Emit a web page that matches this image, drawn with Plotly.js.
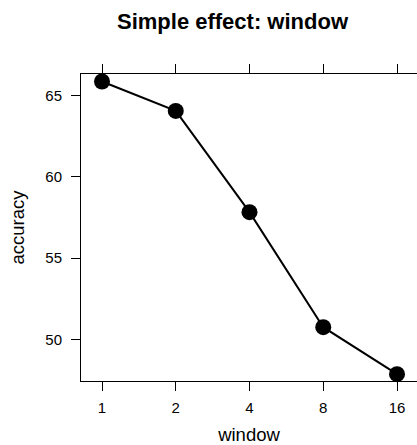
<!DOCTYPE html>
<html>
<head>
<meta charset="utf-8">
<script src="https://cdn.plot.ly/plotly-3.0.1.min.js"></script>
<style>html,body{margin:0;padding:0;background:#fff;overflow:hidden;}</style>
</head>
<body>
<div id="chart" style="width:417px;height:445px;"></div>
<script>
const windowSizes = [1, 2, 4, 8, 16];
const accuracy = [65.87, 64.06, 57.83, 50.75, 47.86];
const xTickLabels = ["1", "2", "4", "8", "16"];
const yTickValues = [50, 55, 60, 65];

const font = "Liberation Sans, Arial, Helvetica, sans-serif";

const trace = {
  x: windowSizes,
  y: accuracy,
  type: "scatter",
  mode: "lines+markers",
  line: {color: "#000", width: 2},
  marker: {color: "#000", size: 16},
  cliponaxis: false,
  hoverinfo: "skip"
};

const layout = {
  width: 417,
  height: 445,
  margin: {l: 81, r: 0, t: 74, b: 64},
  paper_bgcolor: "#fff",
  plot_bgcolor: "#fff",
  showlegend: false,
  font: {family: font, color: "#000"},
  title: {
    text: "<b>Simple effect: window</b>",
    font: {family: font, size: 22, color: "#000"},
    x: 232.5 / 417, xanchor: "center", xref: "container",
    y: 1 - 21 / 445, yanchor: "middle", yref: "container"
  },
  xaxis: {
    type: "log",
    range: [-0.0857, 1.2857],
    tickvals: windowSizes,
    ticktext: xTickLabels,
    ticks: "outside",
    ticklen: 9,
    tickwidth: 1,
    tickcolor: "#000",
    showline: true,
    linecolor: "#000",
    linewidth: 1,
    mirror: "ticks",
    showgrid: false,
    zeroline: false,
    tickfont: {family: font, size: 15, color: "#000"},
    ticklabelstandoff: 4,
    title: {text: "window", font: {family: font, size: 18.5, color: "#000"}, standoff: 16}
  },
  yaxis: {
    range: [47.44, 66.33],
    tickvals: yTickValues,
    ticks: "outside",
    ticklen: 9,
    tickwidth: 1,
    tickcolor: "#000",
    showline: true,
    linecolor: "#000",
    linewidth: 1,
    mirror: false,
    showgrid: false,
    zeroline: false,
    tickfont: {family: font, size: 15, color: "#000"},
    ticklabelstandoff: 6,
    title: {text: "accuracy", font: {family: font, size: 18.5, color: "#000"}, standoff: 15}
  }
};

Plotly.newPlot("chart", [trace], layout, {displayModeBar: false, staticPlot: true});
</script>
</body>
</html>
